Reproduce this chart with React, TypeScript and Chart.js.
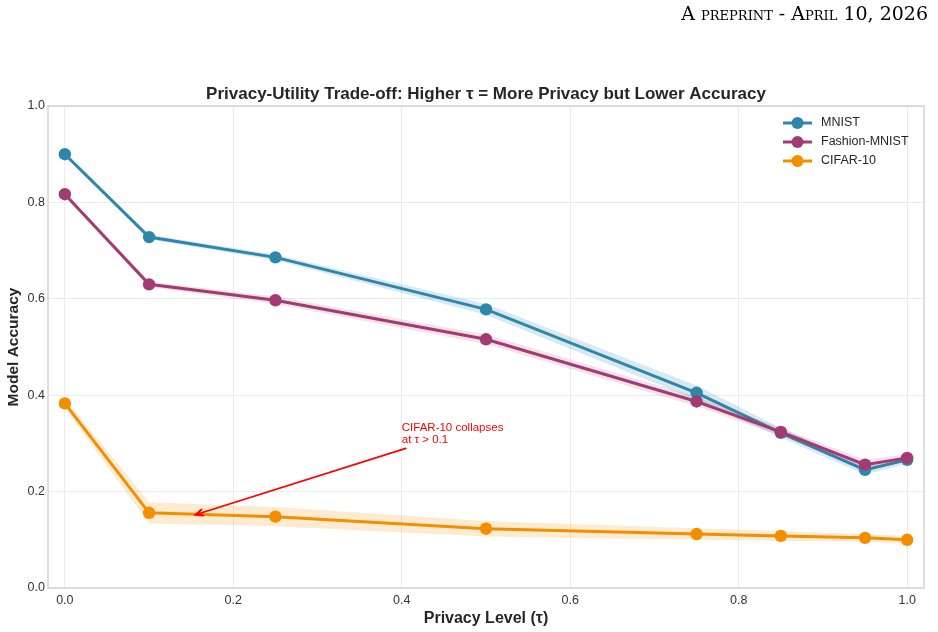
import React, { useEffect, useRef } from "react";
import { Chart, registerables } from "chart.js";

Chart.register(...registerables);

// Privacy level τ at which each model was evaluated
const TAU = [0, 0.1, 0.25, 0.5, 0.75, 0.85, 0.95, 1.0];

// Mean accuracy and spread across runs
const MNIST_ACC = [0.9, 0.728, 0.686, 0.578, 0.405, 0.322, 0.245, 0.266];
const MNIST_STD = [0.004, 0.005, 0.006, 0.011, 0.015, 0.01, 0.01, 0.008];
const FASHION_ACC = [0.817, 0.63, 0.597, 0.516, 0.387, 0.324, 0.256, 0.27];
const FASHION_STD = [0.004, 0.006, 0.008, 0.01, 0.01, 0.008, 0.01, 0.008];
const CIFAR_ACC = [0.383, 0.156, 0.148, 0.123, 0.112, 0.108, 0.104, 0.1];
const CIFAR_STD = [0.01, 0.022, 0.02, 0.016, 0.012, 0.01, 0.008, 0.008];

const SERIES_NAMES = ["MNIST", "Fashion-MNIST", "CIFAR-10"];
const SERIES_COLORS = ["#2E86AB", "#A23B72", "#F18F01"];
const BAND_COLORS = [
  "rgba(46,134,171,0.18)",
  "rgba(162,59,114,0.15)",
  "rgba(241,143,1,0.18)",
];

const X_TICKS = [0, 0.2, 0.4, 0.6, 0.8, 1.0];
const Y_TICKS = [0, 0.2, 0.4, 0.6, 0.8, 1.0];
const X_RANGE = [-0.02, 1.02];
const Y_RANGE = [0, 1];

const TITLE = "Privacy-Utility Trade-off: Higher τ = More Privacy but Lower Accuracy";
const X_LABEL = "Privacy Level (τ)";
const Y_LABEL = "Model Accuracy";
const HEADER = "A preprint - April 10, 2026";

const NOTE_LINES = ["CIFAR-10 collapses", "at τ > 0.1"];
const NOTE_TEXT_AT = { x: 0.4, y: 0.3 };
const NOTE_ARROW_TIP = { x: 0.155, y: 0.152 };

const FONT = "'Liberation Sans', Arial, Helvetica, sans-serif";
const INK = "#262626";

const pts = (vals: number[]) => TAU.map((x, i) => ({ x, y: vals[i] }));

const decorations = {
  id: "decorations",
  beforeDatasetsDraw(chart: any) {
    const { ctx, chartArea: a } = chart;
    ctx.save();
    ctx.strokeStyle = "#cccccc";
    ctx.lineWidth = 1.25;
    ctx.strokeRect(a.left, a.top, a.right - a.left, a.bottom - a.top);
    ctx.restore();
  },
  afterDatasetsDraw(chart: any) {
    const { ctx, scales } = chart;
    const xs = scales.x;
    const ys = scales.y;
    // annotation text and arrow
    const tx = xs.getPixelForValue(NOTE_TEXT_AT.x);
    const ty = ys.getPixelForValue(NOTE_TEXT_AT.y);
    ctx.save();
    ctx.fillStyle = "#ff0000";
    ctx.font = `11.5px ${FONT}`;
    ctx.textAlign = "left";
    ctx.textBaseline = "alphabetic";
    const lh = 12;
    NOTE_LINES.forEach((line, i) => {
      ctx.fillText(line, tx, ty - (NOTE_LINES.length - 1 - i) * lh);
    });
    const sx = tx + 4;
    const sy = ty + 5;
    const ex = xs.getPixelForValue(NOTE_ARROW_TIP.x);
    const ey = ys.getPixelForValue(NOTE_ARROW_TIP.y);
    ctx.strokeStyle = "#ff0000";
    ctx.lineWidth = 1.8;
    ctx.lineCap = "round";
    ctx.beginPath();
    ctx.moveTo(sx, sy);
    ctx.lineTo(ex, ey);
    const ang = Math.atan2(sy - ey, sx - ex);
    const hl = 8;
    ctx.moveTo(ex + hl * Math.cos(ang + 0.4), ey + hl * Math.sin(ang + 0.4));
    ctx.lineTo(ex, ey);
    ctx.lineTo(ex + hl * Math.cos(ang - 0.4), ey + hl * Math.sin(ang - 0.4));
    ctx.stroke();
    ctx.restore();
  },
  afterDraw(chart: any) {
    const { ctx, chartArea: a } = chart;
    ctx.save();
    // title
    ctx.fillStyle = INK;
    ctx.font = `bold 17px ${FONT}`;
    ctx.textAlign = "center";
    ctx.textBaseline = "middle";
    ctx.fillText(TITLE, (a.left + a.right) / 2, 94);
    // legend
    const lx = a.right - 141;
    const ly = a.top + 17;
    ctx.font = `12.5px ${FONT}`;
    ctx.textAlign = "left";
    SERIES_NAMES.forEach((name, i) => {
      const y = ly + i * 19;
      ctx.strokeStyle = SERIES_COLORS[i];
      ctx.lineWidth = 3;
      ctx.beginPath();
      ctx.moveTo(lx, y);
      ctx.lineTo(lx + 29, y);
      ctx.stroke();
      ctx.fillStyle = SERIES_COLORS[i];
      ctx.beginPath();
      ctx.arc(lx + 14.5, y, 6, 0, Math.PI * 2);
      ctx.fill();
      ctx.fillStyle = INK;
      ctx.fillText(name, lx + 38, y);
    });
    ctx.restore();
  },
};

export default function App() {
  const ref = useRef<HTMLCanvasElement | null>(null);

  useEffect(() => {
    if (!ref.current) return;
    const series = [
      { acc: MNIST_ACC, std: MNIST_STD },
      { acc: FASHION_ACC, std: FASHION_STD },
      { acc: CIFAR_ACC, std: CIFAR_STD },
    ];
    const datasets: any[] = [];
    series.forEach((s, i) => {
      const base = 10 - i * 3;
      datasets.push({
        label: `${SERIES_NAMES[i]} low`,
        data: pts(s.acc.map((v, k) => v - s.std[k])),
        borderColor: "transparent",
        borderWidth: 0,
        pointRadius: 0,
        fill: false,
        order: base,
      });
      datasets.push({
        label: `${SERIES_NAMES[i]} high`,
        data: pts(s.acc.map((v, k) => v + s.std[k])),
        borderColor: "transparent",
        borderWidth: 0,
        pointRadius: 0,
        backgroundColor: BAND_COLORS[i],
        fill: "-1",
        order: base,
      });
      datasets.push({
        label: SERIES_NAMES[i],
        data: pts(s.acc),
        borderColor: SERIES_COLORS[i],
        backgroundColor: SERIES_COLORS[i],
        borderWidth: 3,
        pointRadius: 6.2,
        pointBorderWidth: 0,
        pointBackgroundColor: SERIES_COLORS[i],
        fill: false,
        order: base - 1,
      });
    });

    const chart = new Chart(ref.current, {
      type: "line",
      data: { datasets },
      options: {
        animation: false,
        responsive: false,
        devicePixelRatio: 1,
        layout: { padding: { top: 106, right: 14, left: 0, bottom: 0 } },
        plugins: {
          legend: { display: false },
          title: { display: false },
          tooltip: { enabled: false },
        },
        scales: {
          x: {
            type: "linear",
            min: X_RANGE[0],
            max: X_RANGE[1],
            afterBuildTicks: (s: any) => {
              s.ticks = X_TICKS.map((v) => ({ value: v }));
            },
            afterFit: (s: any) => {
              s.height = 44;
            },
            ticks: {
              autoSkip: false,
              maxRotation: 0,
              padding: 5,
              color: "#333333",
              font: { family: FONT, size: 12.5 },
              callback: (v: any) => Number(v).toFixed(1),
            },
            grid: { color: "#ebebeb", lineWidth: 1, drawTicks: false },
            border: { display: false },
            title: {
              display: true,
              text: X_LABEL,
              color: INK,
              font: { family: FONT, size: 16, weight: "bold" },
              padding: { top: 0, bottom: 4 },
            },
          },
          y: {
            type: "linear",
            min: Y_RANGE[0],
            max: Y_RANGE[1],
            afterBuildTicks: (s: any) => {
              s.ticks = Y_TICKS.map((v) => ({ value: v }));
            },
            afterFit: (s: any) => {
              s.width = 48;
            },
            ticks: {
              autoSkip: false,
              padding: 3,
              color: "#333333",
              font: { family: FONT, size: 12.5 },
              callback: (v: any) => Number(v).toFixed(1),
            },
            grid: { color: "#ebebeb", lineWidth: 1, drawTicks: false },
            border: { display: false },
            title: {
              display: true,
              text: Y_LABEL,
              color: INK,
              font: { family: FONT, size: 15.5, weight: "bold" },
              padding: { top: 4, bottom: 0 },
            },
          },
        },
      },
      plugins: [decorations],
    });
    return () => chart.destroy();
  }, []);

  return (
    <div
      style={{
        position: "fixed",
        left: 0,
        top: 0,
        width: 938,
        height: 632,
        background: "#ffffff",
      }}
    >
      <div
        style={{
          position: "absolute",
          right: 10,
          top: 4,
          fontFamily: "'DejaVu Serif', 'Liberation Serif', serif",
          fontSize: 19,
          lineHeight: 1,
          fontVariant: "small-caps",
          color: "#000000",
          whiteSpace: "nowrap",
        }}
      >
        {HEADER}
      </div>
      <canvas ref={ref} width={938} height={632} style={{ display: "block" }} />
    </div>
  );
}
